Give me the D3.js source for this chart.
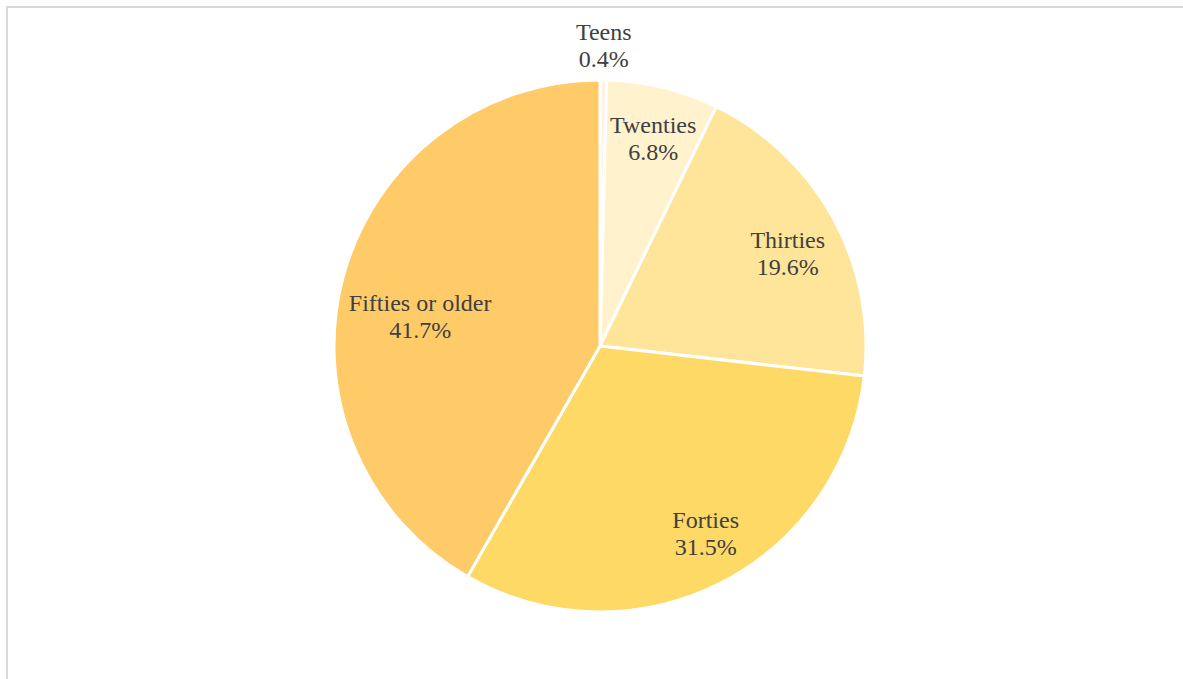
<!DOCTYPE html>
<html>
<head>
<meta charset="utf-8">
<script src="https://cdn.jsdelivr.net/npm/d3@7"></script>
<style>
  body { margin: 0; background: #fff; }
  svg { display: block; }
</style>
</head>
<body>
<div id="chart"></div>
<script>
// Data
const categories = ["Teens", "Twenties", "Thirties", "Forties", "Fifties or older"];
const shares = [0.4, 6.8, 19.6, 31.5, 41.7];
const colors = ["#fdf1ea", "#fff2cc", "#ffe599", "#ffd966", "#ffcb69"];

const width = 1183;
const height = 679;
const cx = 600;
const cy = 346;
const radius = 266;

const svg = d3
  .select("#chart")
  .append("svg")
  .attr("width", width)
  .attr("height", height);

// frame (runs off the right / bottom edge)
svg
  .append("rect")
  .attr("x", 7)
  .attr("y", 7)
  .attr("width", width)
  .attr("height", height)
  .attr("fill", "none")
  .attr("stroke", "#d9d9d9")
  .attr("stroke-width", 2);

const data = categories.map((c, i) => ({ name: c, value: shares[i], color: colors[i] }));

const pie = d3.pie().sort(null).value((d) => d.value);
const arcs = pie(data);

const arc = d3.arc().innerRadius(0).outerRadius(radius);

const g = svg.append("g").attr("transform", `translate(${cx}, ${cy})`);

g.selectAll("path")
  .data(arcs)
  .enter()
  .append("path")
  .attr("d", arc)
  .attr("fill", (d) => d.data.color)
  .attr("stroke", "#fff")
  .attr("stroke-width", 3)
  .attr("stroke-linejoin", "round");

// label radius: small slices go outside
const labelArc = d3.arc().innerRadius(212).outerRadius(212);
const outerArc = d3.arc().innerRadius(300).outerRadius(300);
// small hand nudges like Excel's best fit
const nudge = {
  "Fifties or older": [25, 26],
  Thirties: [2, 10],
  Forties: [10, -1],
  Twenties: [3, -1],
};

const labels = g
  .selectAll("text.lbl")
  .data(arcs)
  .enter()
  .append("text")
  .attr("class", "lbl")
  .attr("transform", (d) => {
    const p = d.data.value < 2 ? outerArc.centroid(d) : labelArc.centroid(d);
    const n = nudge[d.data.name] || [0, 0];
    return `translate(${p[0] + n[0]}, ${p[1] + n[1]})`;
  })
  .attr("text-anchor", "middle")
  .style("font-family", "'Liberation Serif', 'Times New Roman', serif")
  .style("font-size", "24px")
  .style("fill", "#404040");

labels.append("tspan").attr("x", 0).attr("y", -6).text((d) => d.data.name);
labels
  .append("tspan")
  .attr("x", 0)
  .attr("y", 21)
  .text((d) => d.data.value.toFixed(1) + "%");
</script>
</body>
</html>
